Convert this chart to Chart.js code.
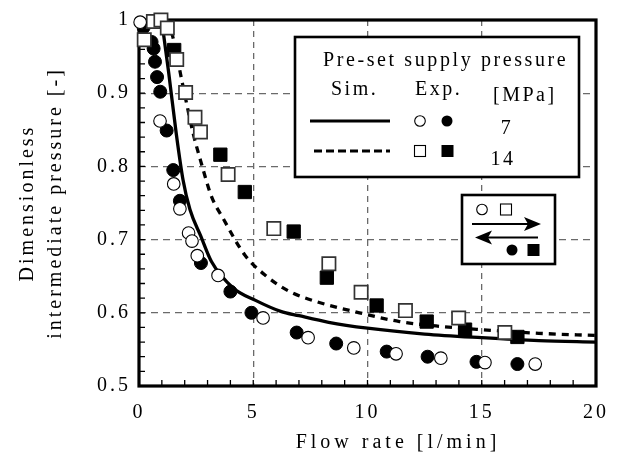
<!DOCTYPE html>
<html><head><meta charset="utf-8">
<script src="https://cdn.jsdelivr.net/npm/chart.js@4.4.0/dist/chart.umd.min.js"></script>
<style>html,body{margin:0;padding:0;background:#fff;}</style>
</head><body>
<canvas id="c" width="621" height="453"></canvas>
<script>
// ---- Data ----
const simFlow7 = [0.99, 1.3, 1.63, 1.93, 2.23, 2.7, 3.17, 4.12, 5.1, 6.2, 7.0, 8.3, 10, 12.5, 15, 17.5, 20];
const simP7    = [1.0, 0.928, 0.845, 0.781, 0.741, 0.705, 0.670, 0.634, 0.617, 0.602, 0.596, 0.587, 0.579, 0.571, 0.566, 0.562, 0.560];
const simFlow14 = [1.2, 1.48, 1.87, 2.11, 2.37, 2.74, 3.17, 3.68, 4.63, 5.58, 6.59, 7.69, 9.65, 11.4, 13, 15, 17.5, 20];
const simP14    = [1.0, 0.977, 0.918, 0.882, 0.845, 0.803, 0.759, 0.729, 0.679, 0.650, 0.629, 0.616, 0.600, 0.588, 0.582, 0.577, 0.572, 0.569];

const expFlow7Open = [0.05, 0.92, 1.52, 1.79, 2.17, 2.32, 2.55, 3.46, 5.43, 7.40, 9.40, 11.25, 13.21, 15.14, 17.34];
const expP7Open    = [0.997, 0.862, 0.776, 0.742, 0.709, 0.698, 0.678, 0.651, 0.593, 0.566, 0.552, 0.544, 0.538, 0.532, 0.530];
const expFlow7Filled = [0.2, 0.55, 0.64, 0.70, 0.79, 0.93, 1.21, 1.50, 1.79, 2.71, 4.00, 4.92, 6.90, 8.63, 10.84, 12.63, 14.77, 16.56];
const expP7Filled    = [0.99, 0.970, 0.961, 0.943, 0.922, 0.902, 0.849, 0.795, 0.753, 0.668, 0.629, 0.600, 0.573, 0.558, 0.547, 0.540, 0.533, 0.530];
const expFlow14Open = [0.23, 0.63, 0.96, 1.24, 1.65, 2.04, 2.45, 2.69, 3.90, 5.90, 8.31, 9.72, 11.66, 13.99, 16.01];
const expP14Open    = [0.973, 0.998, 1.0, 0.989, 0.946, 0.901, 0.867, 0.847, 0.789, 0.715, 0.667, 0.628, 0.603, 0.593, 0.573];
const expFlow14Filled = [1.54, 3.56, 4.63, 6.77, 8.22, 10.40, 12.59, 14.27, 16.56];
const expP14Filled    = [0.959, 0.816, 0.765, 0.711, 0.648, 0.610, 0.588, 0.577, 0.567];

const xTickLabels = ['0', '5', '10', '15', '20'];
const yTickLabels = ['0.5', '0.6', '0.7', '0.8', '0.9', '1'];
const xTitle = 'Flow rate [l/min]';
const yTitle = ['Dimensionless', 'intermediate pressure [-]'];
const legendHeader = 'Pre-set supply pressure';
const legendCols = ['Sim.', 'Exp.', '[MPa]'];
const legendPressures = ['7', '14'];

// ---- Helpers ----
const FONT = "'Liberation Serif', 'Times New Roman', serif";
function pts(xs, ys) { return xs.map((x, i) => ({x: x, y: ys[i]})); }
function isEdge(v, a, b) { return Math.abs(v - a) < 1e-6 || Math.abs(v - b) < 1e-6; }

const framePlugin = {
  id: 'frame',
  beforeDraw(chart) { chart.ctx.letterSpacing = '3px'; },
  beforeDatasetsDraw(chart) {
    const {ctx, chartArea: a, scales} = chart;
    ctx.save();
    ctx.strokeStyle = '#000';
    ctx.lineWidth = 1.3;
    ctx.beginPath();
    for (let i = 1; i < 25; i++) {
      const y = scales.y.getPixelForValue(0.5 + i * 0.02);
      ctx.moveTo(a.left, y); ctx.lineTo(a.left + 6, y);
    }
    for (let i = 1; i < 20; i++) {
      const x = scales.x.getPixelForValue(i);
      ctx.moveTo(x, a.bottom); ctx.lineTo(x, a.bottom - 6);
    }
    ctx.stroke();
    ctx.lineWidth = 3.2;
    ctx.strokeRect(a.left, a.top, a.right - a.left, a.bottom - a.top);
    ctx.restore();
  },
  afterDraw(chart) {
    const ctx = chart.ctx;
    ctx.save();
    ctx.fillStyle = '#000';
    ctx.strokeStyle = '#000';
    // x title
    ctx.font = '20px ' + FONT;
    ctx.letterSpacing = '4px';
    ctx.textAlign = 'center';
    ctx.textBaseline = 'alphabetic';
    ctx.fillText(xTitle, 398, 448);

    // legend box
    ctx.fillStyle = '#fff';
    ctx.fillRect(295, 37, 284, 140);
    ctx.lineWidth = 2.6;
    ctx.strokeRect(295, 37, 284, 140);
    ctx.fillStyle = '#000';
    ctx.textAlign = 'left';
    ctx.letterSpacing = '2.6px';
    ctx.fillText(legendHeader, 323, 66);
    ctx.letterSpacing = '2.5px';
    ctx.fillText(legendCols[0], 331, 95);
    ctx.fillText(legendCols[1], 415, 95);
    ctx.fillText(legendCols[2], 493, 101);
    ctx.textAlign = 'center';
    ctx.fillText(legendPressures[0], 507, 134);
    ctx.fillText(legendPressures[1], 503, 165);
    // legend lines
    ctx.lineWidth = 3;
    ctx.beginPath(); ctx.moveTo(310, 121); ctx.lineTo(390, 121); ctx.stroke();
    ctx.setLineDash([8, 4]);
    ctx.beginPath(); ctx.moveTo(314, 151); ctx.lineTo(390, 151); ctx.stroke();
    ctx.setLineDash([]);
    // legend markers
    ctx.lineWidth = 1.1;
    ctx.beginPath(); ctx.arc(420, 121, 5.3, 0, Math.PI * 2); ctx.fillStyle = '#fff'; ctx.fill(); ctx.stroke();
    ctx.beginPath(); ctx.arc(447, 121, 5.5, 0, Math.PI * 2); ctx.fillStyle = '#000'; ctx.fill();
    ctx.fillStyle = '#fff'; ctx.fillRect(414.5, 145.5, 11, 11); ctx.strokeRect(414.5, 145.5, 11, 11);
    ctx.fillStyle = '#000'; ctx.fillRect(441.5, 145, 12, 12);

    // arrow inset
    ctx.fillStyle = '#fff';
    ctx.fillRect(462, 195, 93, 69);
    ctx.lineWidth = 2.6;
    ctx.strokeRect(462, 195, 93, 69);
    ctx.lineWidth = 1.1;
    ctx.beginPath(); ctx.arc(482, 209.5, 5.3, 0, Math.PI * 2); ctx.fillStyle = '#fff'; ctx.fill(); ctx.stroke();
    ctx.fillStyle = '#fff'; ctx.fillRect(500.5, 204, 11, 11); ctx.strokeRect(500.5, 204, 11, 11);
    ctx.fillStyle = '#000';
    ctx.beginPath(); ctx.arc(512, 250, 5.5, 0, Math.PI * 2); ctx.fill();
    ctx.fillRect(527.5, 244, 12, 12);
    // arrows
    ctx.lineWidth = 2.2;
    ctx.beginPath(); ctx.moveTo(472, 224); ctx.lineTo(530, 224); ctx.stroke();
    ctx.beginPath(); ctx.moveTo(541, 224); ctx.lineTo(524, 217); ctx.lineTo(528, 224); ctx.lineTo(524, 231); ctx.closePath(); ctx.fill();
    ctx.beginPath(); ctx.moveTo(486, 237.5); ctx.lineTo(538, 237.5); ctx.stroke();
    ctx.beginPath(); ctx.moveTo(475, 237.5); ctx.lineTo(492, 230.5); ctx.lineTo(488, 237.5); ctx.lineTo(492, 244.5); ctx.closePath(); ctx.fill();
    ctx.restore();
  }
};

const markerCommon = { showLine: false, clip: false, pointHoverRadius: 0 };

new Chart(document.getElementById('c'), {
  type: 'scatter',
  data: {
    datasets: [
      Object.assign({ label: 'Exp. 7 MPa (open)', data: pts(expFlow7Open, expP7Open), pointStyle: 'circle', pointRadius: 6.3, backgroundColor: '#fff', borderColor: '#000', pointBorderWidth: 1.1 }, markerCommon),
      Object.assign({ label: 'Exp. 14 MPa (open)', data: pts(expFlow14Open, expP14Open), pointStyle: 'rect', pointRadius: 9.4, backgroundColor: '#fff', borderColor: '#333', pointBorderWidth: 1.7 }, markerCommon),
      Object.assign({ label: 'Exp. 7 MPa (filled)', data: pts(expFlow7Filled, expP7Filled), pointStyle: 'circle', pointRadius: 6.5, backgroundColor: '#000', borderColor: '#000', pointBorderWidth: 1 }, markerCommon),
      Object.assign({ label: 'Exp. 14 MPa (filled)', data: pts(expFlow14Filled, expP14Filled), pointStyle: 'rect', pointRadius: 9.4, backgroundColor: '#000', borderColor: '#000', pointBorderWidth: 1 }, markerCommon),
      { label: 'Sim. 7 MPa', type: 'line', data: pts(simFlow7, simP7), showLine: true, pointRadius: 0, borderColor: '#000', borderWidth: 3.3, cubicInterpolationMode: 'monotone', fill: false },
      { label: 'Sim. 14 MPa', type: 'line', data: pts(simFlow14, simP14), showLine: true, pointRadius: 0, borderColor: '#000', borderWidth: 3.3, borderDash: [7, 6], cubicInterpolationMode: 'monotone', fill: false }
    ]
  },
  options: {
    responsive: false,
    animation: false,
    devicePixelRatio: 1,
    events: [],
    layout: { padding: { left: 0, right: 24, top: 20, bottom: 0 } },
    plugins: { legend: { display: false }, tooltip: { enabled: false } },
    scales: {
      x: {
        type: 'linear', min: 0, max: 20,
        afterFit: s => { s.height = 67; },
        ticks: { stepSize: 5, color: '#000', padding: 15, font: { family: FONT, size: 20 }, maxRotation: 0,
                 callback: v => xTickLabels[Math.round(v / 5)] },
        grid: { drawTicks: false, lineWidth: 1.3,
                color: c => (c.tick && isEdge(c.tick.value, 0, 20)) ? 'rgba(0,0,0,0)' : '#6a6a6a' },
        border: { display: false, dash: [6, 5] },
        title: { display: false }
      },
      y: {
        type: 'linear', min: 0.5, max: 1,
        afterFit: s => { s.width = 139; },
        ticks: { stepSize: 0.1, color: '#000', padding: 8, font: { family: FONT, size: 20 },
                 callback: v => yTickLabels[Math.round((v - 0.5) * 10)] },
        grid: { drawTicks: false, lineWidth: 1.3,
                color: c => (c.tick && isEdge(c.tick.value, 0.5, 1)) ? 'rgba(0,0,0,0)' : '#6a6a6a' },
        border: { display: false, dash: [7, 5] },
        title: { display: true, text: yTitle, color: '#000', font: { family: FONT, size: 20, lineHeight: 1.4 }, padding: { top: 14, bottom: 0 } }
      }
    }
  },
  plugins: [framePlugin]
});
</script>
</body></html>
